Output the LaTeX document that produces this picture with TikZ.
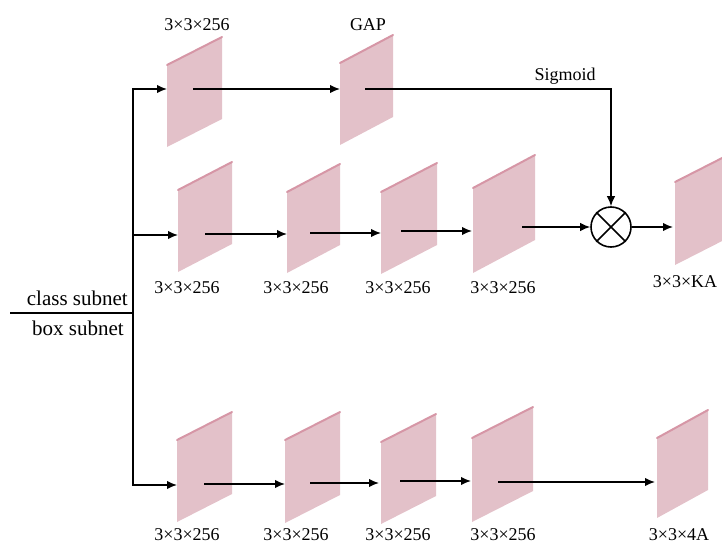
\documentclass[tikz,border=0pt]{standalone}
\usepackage{fontspec}
\setmainfont{Liberation Serif}
\usetikzlibrary{arrows.meta}

\definecolor{platefill}{RGB}{227,193,201}
\definecolor{plateedge}{RGB}{214,150,166}

\tikzset{
  conn/.style={line width=1.6pt, black},
  arr/.style={conn, -{Latex[length=10pt,width=8.5pt]}},
  lbl/.style={font=\fontsize{18}{20}\selectfont, anchor=base, inner sep=0pt},
  sublbl/.style={font=\fontsize{21}{24}\selectfont, anchor=base east, inner sep=0pt},
}

% feature map: name, x, y of top-left corner, width, slant, height
\newcommand{\fmap}[6]{%
  \fill[platefill] (#2,#3) -- (#2+#4,#3-#5) -- (#2+#4,#3-#5+#6) -- (#2,#3+#6) -- cycle;
  \draw[plateedge, line width=2pt, line cap=round] (#2,#3) -- (#2+#4,#3-#5);
  \coordinate (#1) at (#2+0.5*#4,#3+0.5*#6-0.5*#5);
}

\begin{document}
\begin{tikzpicture}[x=1pt, y=-1pt]
\useasboundingbox (0,0) rectangle (722,543);
\begin{scope}
\clip (0,0) rectangle (722,543);

% feature maps
\fmap{t1}{167}{65}{55}{28}{82}
\fmap{t2}{340}{63}{53}{28}{82}
\fmap{m1}{178}{190}{54}{28}{82}
\fmap{m2}{287}{192}{53}{28}{81}
\fmap{m3}{381}{192}{56}{29}{82}
\fmap{m4}{473}{188}{62}{33}{85}
\fmap{ka}{675}{182}{55}{28}{83}
\fmap{b1}{177}{440}{55}{28}{82}
\fmap{b2}{285}{440}{55}{28}{83}
\fmap{b3}{381}{442}{55}{28}{82}
\fmap{b4}{472}{438}{61}{31}{84}
\fmap{b5}{657}{438}{51}{28}{80}
\end{scope}

% arrow end points
\coordinate (split) at (133,313);
\coordinate (lft) at (10,313);
\coordinate (t1in) at (167,89);  \coordinate (t1out) at (193,89);
\coordinate (t2in) at (340,89);  \coordinate (t2out) at (365,89);
\coordinate (sgturn) at (611,89);
\coordinate (m1in) at (178,235); \coordinate (m1out) at (205,234);
\coordinate (m2in) at (287,234); \coordinate (m2out) at (310,233);
\coordinate (m3in) at (381,233); \coordinate (m3out) at (401,231);
\coordinate (m4in) at (472,231); \coordinate (m4out) at (522,227);
\coordinate (kain) at (673,227);
\coordinate (b1in) at (177,485); \coordinate (b1out) at (204,484);
\coordinate (b2in) at (285,484); \coordinate (b2out) at (310,483);
\coordinate (b3in) at (379,483); \coordinate (b3out) at (400,481);
\coordinate (b4in) at (471,481); \coordinate (b4out) at (498,482);
\coordinate (b5in) at (655,482);

% multiplication node
\node[circle, draw, line width=1.6pt, minimum size=40pt, inner sep=0pt] (mul) at (611,227) {};
\draw[conn] (mul.45) -- (mul.225);
\draw[conn] (mul.135) -- (mul.315);

% trunk and branches
\draw[conn] (lft) -- (split);
\draw[arr] (split) |- (t1in);
\draw[arr] (split) |- (m1in);
\draw[arr] (split) |- (b1in);

% top branch
\draw[arr] (t1out) -- (t2in);
\draw[arr] (t2out) -- (sgturn) -- (mul.north);

% class branch
\draw[arr] (m1out) -- (m2in);
\draw[arr] (m2out) -- (m3in);
\draw[arr] (m3out) -- (m4in);
\draw[arr] (m4out) -- (mul.west);
\draw[arr] (mul.east) -- (kain);

% box branch
\draw[arr] (b1out) -- (b2in);
\draw[arr] (b2out) -- (b3in);
\draw[arr] (b3out) -- (b4in);
\draw[arr] (b4out) -- (b5in);

% labels
\node[lbl] (lt1) at (197,31) {3×3×256};
\node[lbl] (lgap) at (368,31) {GAP};
\node[lbl] (lsig) at (565,80) {Sigmoid};
\node[lbl] (lm1) at (187,293) {3×3×256};
\node[lbl] (lm2) at (296,293) {3×3×256};
\node[lbl] (lm3) at (398,293) {3×3×256};
\node[lbl] (lm4) at (503,293) {3×3×256};
\node[lbl] (lka) at (685,287) {3×3×KA};
\node[lbl] (lb1) at (187,540) {3×3×256};
\node[lbl] (lb2) at (296,540) {3×3×256};
\node[lbl] (lb3) at (398,540) {3×3×256};
\node[lbl] (lb4) at (503,540) {3×3×256};
\node[lbl] (lb5) at (679,540) {3×3×4A};
\node[sublbl] (lcls) at (128,305) {class subnet};
\node[sublbl] (lbox) at (124,335) {box subnet};
\end{tikzpicture}
\end{document}
